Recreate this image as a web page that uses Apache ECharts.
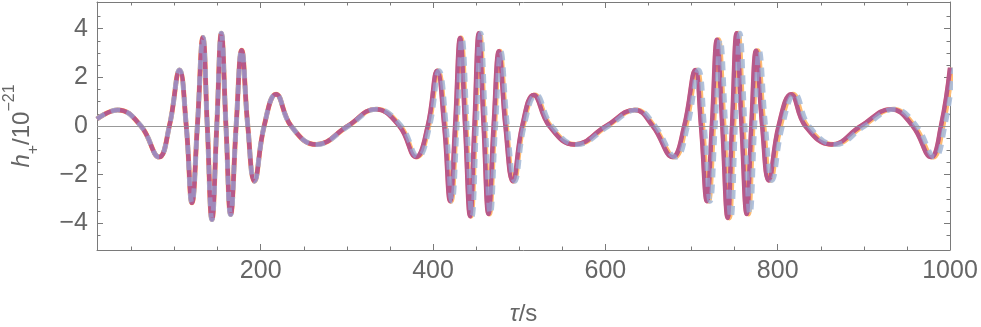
<!DOCTYPE html>
<html>
<head>
<meta charset="utf-8">
<script src="https://cdn.jsdelivr.net/npm/echarts@6/dist/echarts.min.js"></script>
<style>
  html, body { margin: 0; padding: 0; background: #fff; }
  #chart { width: 981px; height: 327px; }
</style>
</head>
<body>
<div id="chart"></div>
<script>
// waveform: extrema and zero crossings (tau in s, h in 1e-21)
const tRed = [10, 34, 61, 82, 94, 105.8, 113.6, 120.2, 126.5, 132.9, 138, 143.4, 149, 154.3, 159.7, 165.1, 171.5, 177.9, 185, 192.7, 204, 217.8, 235.3, 264.3, 301, 333, 360.8, 380.2, 393.8, 404.7, 413, 419.8, 425.6, 431.4, 437.2, 443, 448, 453.1, 458.7, 464.3, 470.3, 476.4, 484, 492.6, 503.5, 516.7, 534.9, 564, 600.8, 633.7, 654.9, 677.9, 691.5, 704.3, 711, 717.8, 723.6, 729.5, 735.7, 741.9, 747, 752.3, 758.1, 764, 769.4, 774.8, 782, 789.5, 801, 815.5, 832, 862.4, 896.5, 931.4, 956.6, 977.9, 989.5, 1000]
// orange and dashed blue lag a little in the later bursts
const tOrange = [10, 34, 61, 82, 94, 105.8, 113.6, 120.2, 126.5, 132.9, 138, 143.4, 149, 154.3, 159.7, 165.1, 171.5, 177.9, 185, 192.7, 204, 217.8, 235.3, 264.4, 301.5, 333.8, 362, 381.4, 395, 405.9, 414.2, 421, 426.8, 432.6, 438.4, 444.2, 449.2, 454.3, 459.9, 465.5, 471.5, 477.6, 485.2, 493.8, 504.7, 518.2, 536.4, 565.5, 602.3, 635.2, 656.4, 679.9, 693.5, 706.3, 713, 719.8, 725.6, 731.5, 737.7, 743.9, 749, 754.3, 760.1, 766, 771.4, 776.8, 784, 791.5, 803.3, 817.8, 834.3, 864.7, 898.8, 933.7, 958.9, 980.2, 991.8, 1002.3]
const tBlue = [10, 34, 61, 82, 94, 105.8, 113.6, 120.2, 126.5, 132.9, 138, 143.4, 149, 154.3, 159.7, 165.1, 171.5, 177.9, 185, 192.7, 204, 217.8, 235.3, 264.5, 302, 334.5, 363.1, 382.5, 396.1, 407, 415.3, 422.1, 427.9, 433.7, 439.5, 445.3, 450.3, 455.4, 461, 466.6, 472.6, 478.7, 486.3, 494.9, 505.8, 519.7, 537.9, 567, 603.8, 636.7, 657.9, 681.8, 695.4, 708.2, 714.9, 721.7, 727.5, 733.4, 739.6, 745.8, 750.9, 756.2, 762, 767.9, 773.3, 778.7, 785.9, 793.4, 805.5, 820, 836.5, 866.9, 901, 935.9, 961.1, 982.4, 994, 1004.5]
const hValues = [0.29, 0.66, 0, -1.28, 0, 2.3, 0, -3.16, 0, 3.64, 0, -3.85, 0, 3.81, 0, -3.64, 0, 3.12, 0, -2.27, 0, 1.31, 0, -0.76, 0, 0.69, 0, -1.27, 0, 2.27, 0, -3.09, 0, 3.62, 0, -3.71, 0, 3.81, 0, -3.62, 0, 3.07, 0, -2.27, 0, 1.28, 0, -0.76, 0, 0.66, 0, -1.28, 0, 2.3, 0, -3.09, 0, 3.55, 0, -3.78, 0, 3.81, 0, -3.62, 0, 3.09, 0, -2.24, 0, 1.31, 0, -0.76, 0, 0.69, 0, -1.28, 0, 2.4]

const xMajor = [200, 400, 600, 800, 1000]
const xMinor = [50, 100, 150, 250, 300, 350, 450, 500, 550, 650, 700, 750, 850, 900, 950]
const yMajor = [-4, -2, 0, 2, 4]
const yMinor = [-4.5, -3.5, -3, -2.5, -1.5, -1, -0.5, 0.5, 1, 1.5, 2.5, 3, 3.5, 4.5]

const pairs = (ts) => ts.map((t, i) => [t, hValues[i]])

const frameColor = '#7a7a7a'
const textColor = '#666'
const font = 'Liberation Sans'

// frame axis: ticks only, pointing inwards (Mathematica style)
const tickAxis = (position, ticks, len, withLine) => ({
  position,
  axisLine: {show: withLine, onZero: false, lineStyle: {color: frameColor, width: 1}},
  axisTick: {show: true, inside: true, length: len, customValues: ticks, lineStyle: {color: frameColor}},
  axisLabel: {show: false},
  splitLine: {show: false}
})

const chart = echarts.init(document.getElementById('chart'))

const xAxes = [
  Object.assign(tickAxis('bottom', xMajor, 6, true), {
    axisLabel: {
      show: true, customValues: xMajor, fontSize: 25, color: textColor, fontFamily: font, margin: 9,
      formatter: v => String(v)
    },
    name: '{i|τ}{n|/s}',
    nameLocation: 'middle',
    nameGap: 52,
    nameTextStyle: {
      fontFamily: font,
      rich: {
        i: {fontSize: 24, fontStyle: 'italic', color: textColor, fontFamily: font},
        n: {fontSize: 24, color: textColor, fontFamily: font}
      }
    }
  }),
  tickAxis('bottom', xMinor, 3.5, false),
  tickAxis('top', xMajor, 6, true),
  tickAxis('top', xMinor, 3.5, false)
].map(a => Object.assign(a, {type: 'value', min: 10, max: 1000, gridIndex: 0}))

const yAxes = [
  Object.assign(tickAxis('left', yMajor, 6, true), {
    axisLabel: {
      show: true, customValues: yMajor, fontSize: 25, color: textColor, fontFamily: font, margin: 9,
      formatter: v => String(v).replace('-', '\u2212')
    },
    name: '{i|h}{sub|+}{n|/10}{sup|\u221221}',
    nameLocation: 'middle',
    nameRotate: 90,
    nameGap: 55,
    nameTextStyle: {
      fontFamily: font,
      rich: {
        i: {fontSize: 24, fontStyle: 'italic', color: textColor, fontFamily: font, lineHeight: 40},
        n: {fontSize: 24, color: textColor, fontFamily: font, lineHeight: 40},
        sub: {fontSize: 16, color: textColor, fontFamily: font, lineHeight: 20, verticalAlign: 'bottom'},
        sup: {fontSize: 16, color: textColor, fontFamily: font, lineHeight: 10, verticalAlign: 'top'}
      }
    }
  }),
  tickAxis('left', yMinor, 3.5, false),
  tickAxis('right', yMajor, 6, true),
  tickAxis('right', yMinor, 3.5, false)
].map(a => Object.assign(a, {type: 'value', min: -5.1, max: 5.1, gridIndex: 0}))

const lineSeries = (name, ts, style, z) => ({
  name,
  type: 'line',
  data: pairs(ts),
  smooth: 0.45,
  showSymbol: false,
  xAxisIndex: 0,
  yAxisIndex: 0,
  lineStyle: style,
  z
})

chart.setOption({
  animation: false,
  backgroundColor: '#fff',
  grid: {left: 97, right: 31, top: 2, bottom: 77, show: false, containLabel: false, outerBoundsMode: 'none'},
  xAxis: xAxes,
  yAxis: yAxes,
  series: [
    lineSeries('orange', tOrange, {color: '#fdbb72', width: 5}, 2),
    Object.assign(lineSeries('red', tRed, {color: '#d9506e', width: 4.5}, 3), {
      markLine: {
        silent: true,
        symbol: ['none', 'none'],
        label: {show: false},
        lineStyle: {color: '#999', width: 1, type: 'solid'},
        data: [{yAxis: 0}]
      }
    }),
    lineSeries('blue', tBlue, {color: '#a7bbd9', width: 5, type: [9, 7], opacity: 0.9}, 4),
    lineSeries('purple', tRed, {color: '#9262a8', width: 4, opacity: 0.5}, 5)
  ]
})
</script>
</body>
</html>
